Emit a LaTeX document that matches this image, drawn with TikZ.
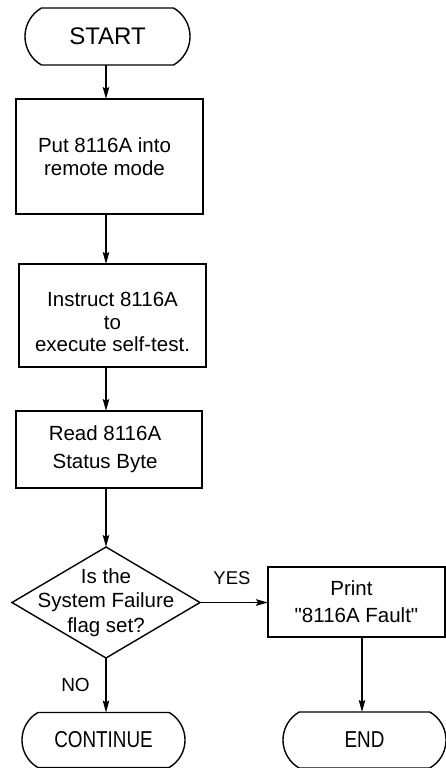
\documentclass[tikz,border=0pt]{standalone}
\usepackage{fontspec}
\setmainfont{Liberation Sans}
\newfontfamily\condfont{Liberation Sans}[FakeStretch=0.82]
\newfontfamily\rawfont{Liberation Sans}[Ligatures=TeXOff]
\usetikzlibrary{shapes.geometric,shapes.misc,arrows.meta}
\begin{document}
\begin{tikzpicture}[x=1pt,y=-1pt,
  every node/.style={outer sep=0pt},
  arr/.style={line width=1.4pt,-{Stealth[length=12pt,width=6.5pt,inset=2pt]}},
  term/.style={draw,line width=1.4pt,rounded rectangle,rounded rectangle arc length=120,inner sep=0pt},
  procbox/.style={draw,line width=1.4pt,rectangle,inner sep=0pt,align=center,font=\fontsize{20.5}{22.5}\selectfont},
  decbox/.style={draw,line width=1.4pt,diamond,inner sep=0pt},
  lbl/.style={inner sep=0pt,align=center},
]
\useasboundingbox (0,0) rectangle (446,768);
\coordinate (sx) at (106,0);

\node[term,minimum width=165pt,minimum height=57pt,font=\fontsize{24}{26}\selectfont] (start) at (107.5,36.5) {START};

\node[procbox,minimum width=187pt,minimum height=115pt] (b1) at (109.5,156.5)
  {Put 8116A into\kern10pt\\remote mode\kern10pt};

\node[procbox,minimum width=187pt,minimum height=103pt] (b2) at (112.5,315.5)
  {\rule{0pt}{28pt}Instruct 8116A\\to\\execute self-test.};

\node[procbox,minimum width=186pt,minimum height=77pt,font=\fontsize{20.5}{28}\selectfont] (b3) at (109,449.5)
  {Read 8116A\kern8pt\\Status Byte\kern8pt};

\node[decbox,minimum width=188pt,minimum height=111pt,
  label={[lbl,font=\fontsize{20.5}{24.5}\selectfont]center:{Is the\\System Failure\\flag set?}}] (dec) at (106,602.5) {};

\node[procbox,minimum width=177pt,minimum height=70pt,font=\rawfont\fontsize{20.5}{27}\selectfont] (print) at (356.5,602)
  {Print\kern10pt\\"8116A Fault"};

\node[term,minimum width=163pt,minimum height=55pt,font=\condfont\fontsize{23}{25}\selectfont] (cont) at (103.5,740) {CONTINUE};
\node[term,minimum width=163pt,minimum height=56pt,font=\condfont\fontsize{23}{25}\selectfont] (end) at (364.5,740) {END};

\draw[arr] (start.south -| sx) -- (b1.north -| sx);
\draw[arr] (b1.south -| sx) -- (b2.north -| sx);
\draw[arr] (b2.south -| sx) -- (b3.north -| sx);
\draw[arr] (b3.south -| sx) -- (dec.north -| sx);
\draw[arr] (dec.east) -- node[lbl,pos=0.47,yshift=24.5pt,font=\fontsize{18.5}{20}\selectfont] (yes) {YES} (print.west |- dec.east);
\draw[arr] (dec.south -| sx) -- node[lbl,pos=0.5,xshift=-30.5pt,font=\fontsize{19}{20}\selectfont] (no) {NO} (cont.north -| sx);
\draw[arr] ([xshift=5.5pt]print.south) -- ([xshift=5.5pt]print.south |- end.north);
\end{tikzpicture}
\end{document}
